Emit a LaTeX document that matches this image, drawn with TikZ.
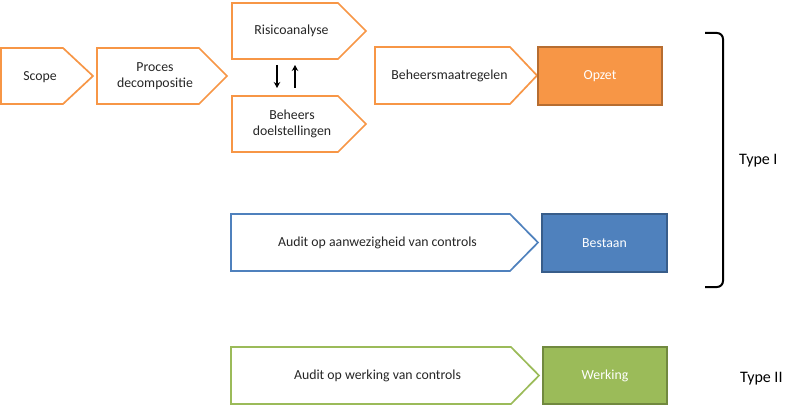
\documentclass[tikz,border=0pt]{standalone}
\usepackage{fontspec}
\setmainfont{Carlito}
\usetikzlibrary{arrows.meta}
\definecolor{orng}{HTML}{F79646}
\definecolor{orngd}{HTML}{B66D31}
\definecolor{blu}{HTML}{4F81BD}
\definecolor{blud}{HTML}{385D8A}
\definecolor{grn}{HTML}{9BBB59}
\definecolor{grnd}{HTML}{71893F}
\definecolor{txt}{HTML}{262626}
\tikzset{
  chevline/.style={line width=1.7pt, line join=miter, fill=white},
  ctext/.style={align=center, text=txt, inner sep=0pt, font=\fontsize{13.8}{15.8}\selectfont},
  res/.style={draw=#1, line width=1.8pt, inner sep=0pt, outer sep=0pt,
    text=white, font=\fontsize{13.8}{15.8}\selectfont},
  lbl/.style={font=\fontsize{16}{18}\selectfont, text=black, anchor=west, inner sep=0pt},
  vArrow/.style={-{Stealth[length=6pt,width=6.5pt]}, line width=1.7pt, black}
}
% #1 x-left, #2 y-top, #3 x-body-right, #4 x-tip, #5 y-bottom, #6 colour
\newcommand{\chevshape}[6]{%
  \draw[chevline, draw=#6] (#1,#2) -- (#3,#2) -- (#4,{(#2+#5)/2}) -- (#3,#5) -- (#1,#5) -- cycle;}
\begin{document}
\begin{tikzpicture}[x=1pt,y=-1pt]
\useasboundingbox (0,0) rectangle (800,406);
\chevshape{1}{48}{63}{93}{104}{orng}
\node[ctext] (scope) at (40,77) {Scope};
\chevshape{97}{48}{199}{227}{104}{orng}
\node[ctext] (proces) at (155,76) {Proces\\decompositie};
\chevshape{232}{3}{338}{366}{59}{orng}
\node[ctext] (risico) at (291.5,31) {Risicoanalyse};
\chevshape{232}{96}{338}{366}{152}{orng}
\node[ctext] (doel) at (292,124) {Beheers\\doelstellingen};
\chevshape{375}{47}{510}{537}{104}{orng}
\node[ctext] (maatr) at (449.5,76) {Beheersmaatregelen};
\node[res=orngd, fill=orng, minimum width=124pt, minimum height=58pt] (opzet) at (600,76) {Opzet};
\chevshape{231}{214}{510}{538}{271}{blu}
\node[ctext] (aanw) at (377.5,243) {Audit op aanwezigheid van controls};
\node[res=blud, fill=blu, minimum width=125pt, minimum height=58pt] (bestaan) at (604.5,243) {Bestaan};
\chevshape{231}{347}{511}{539}{404}{grn}
\node[ctext] (werk) at (377.5,376) {Audit op werking van controls};
\node[res=grnd, fill=grn, minimum width=124pt, minimum height=57pt] (werking) at (605,375.5) {Werking};
\coordinate (a1) at (277,65);
\coordinate (a2) at (277,88);
\coordinate (b1) at (295,88);
\coordinate (b2) at (295,65);
\draw[vArrow] (a1) -- (a2);
\draw[vArrow] (b1) -- (b2);
\draw[line width=2pt, black] (705,33) -- (717,33) arc[start angle=270,end angle=360,radius=6] -- (723,281) arc[start angle=0,end angle=90,radius=6] -- (705,287);
\node[lbl] (t1) at (739,161) {Type I};
\node[lbl] (t2) at (740,379) {Type II};
\end{tikzpicture}
\end{document}
